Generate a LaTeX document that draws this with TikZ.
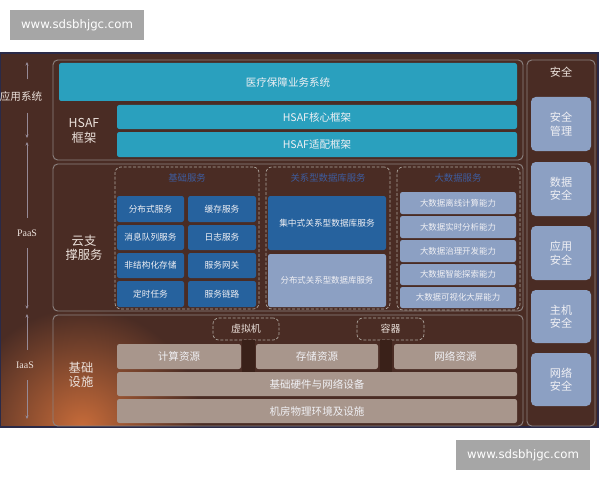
\documentclass[tikz,border=0pt]{standalone}
\usepackage{fontspec}
\setmainfont{Noto Sans CJK SC}
\newfontfamily\latinserif{Liberation Serif}
\newfontfamily\wmfont{DejaVu Sans}
\usetikzlibrary{arrows.meta}

\definecolor{panelbg}{RGB}{74,44,36}
\definecolor{framecol}{RGB}{42,42,72}
\definecolor{outlinecol}{RGB}{140,130,128}
\definecolor{tealcol}{RGB}{42,160,190}
\definecolor{dbluecol}{RGB}{38,98,158}
\definecolor{steelcol}{RGB}{140,160,195}
\definecolor{tancol}{RGB}{168,150,140}
\definecolor{hdrblue}{RGB}{62,92,158}
\definecolor{wtext}{RGB}{240,240,244}
\definecolor{ltext}{RGB}{236,226,220}
\definecolor{dashcol}{RGB}{175,168,160}
\definecolor{wmgray}{RGB}{166,166,166}
\definecolor{glowcol}{RGB}{200,108,58}
\definecolor{axiscol}{RGB}{150,138,150}
\definecolor{stripcol}{RGB}{58,33,25}

\newcommand\bx[7]{\node[#1,minimum width={(#5-#3)*0.03cm},minimum height={(#6-#4)*0.03cm}] (#2) at ({(#3+#5)/2},{(#4+#6)/2}) {#7};}

\tikzset{
  base/.style={inner sep=0pt, outer sep=0pt, align=center},
  outerblk/.style={base, draw=outlinecol, line width=0.8pt, rounded corners=4pt},
  tealbar/.style={base, fill=tealcol, rounded corners=2pt, text=wtext, font=\fontsize{9}{10}\selectfont},
  btn/.style={base, fill=dbluecol, rounded corners=2pt, text=wtext, font=\fontsize{7.4}{9}\selectfont},
  sbtn/.style={base, fill=steelcol, rounded corners=2pt, text=wtext, font=\fontsize{7.2}{9}\selectfont},
  tanbar/.style={base, fill=tancol, rounded corners=2pt, text=wtext, font=\fontsize{9}{10}\selectfont},
  grp/.style={base, draw=dashcol, dash pattern=on 2.5pt off 1.5pt, line width=0.6pt, rounded corners=5pt},
  secbox/.style={base, fill=steelcol, rounded corners=4pt, text=wtext, font=\fontsize{9.5}{11.5}\selectfont},
  hdr/.style={base, text=hdrblue, font=\fontsize{8}{9}\selectfont},
  lbl/.style={base, text=ltext, font=\fontsize{10.5}{12.5}\selectfont},
  axlbl/.style={base, inner ysep=10pt, text=ltext},
  axisline/.style={draw=axiscol, line width=0.5pt, -{Stealth[length=3pt,width=2.6pt]}},
  strip/.style={draw=stripcol, line width=11pt},
  wmbox/.style={base, fill=wmgray, text=white, font=\wmfont\fontsize{10}{12}\selectfont}
}

\begin{document}
\begin{tikzpicture}[x=0.03cm,y=-0.03cm]
\useasboundingbox (0,0) rectangle (600,480);

% panel
\fill[panelbg] (0,53) rectangle (598,427);
\begin{scope}
  \clip (0,53) rectangle (598,427);
  \shade[inner color=glowcol, outer color=panelbg] (82,428) circle [radius=3.6cm];
\end{scope}
\draw[framecol, line width=2.5pt] (0,53) rectangle (598,427);

% watermarks
\bx{wmbox}{wmtop}{10}{10}{144}{40}{www.sdsbhjgc.com}
\bx{wmbox}{wmbot}{456}{440}{590}{470}{www.sdsbhjgc.com}

% left axis
\coordinate (a1) at (27,62);
\coordinate (a2) at (27,138);
\coordinate (a3) at (27,142);
\coordinate (a4) at (27,309);
\coordinate (a5) at (27,314);
\coordinate (a6) at (27,419);
\node[axlbl, font=\fontsize{9}{10}\selectfont] (lapp) at (21,96) {应用系统};
\node[axlbl, font=\latinserif\fontsize{8.5}{10}\selectfont] (lpaas) at (27,233) {PaaS};
\node[axlbl, font=\latinserif\fontsize{8.5}{10}\selectfont] (liaas) at (25,365) {IaaS};
\draw[axisline] (lapp.north -| a1) -- (a1);
\draw[axisline] (lapp.south -| a1) -- (a2);
\draw[axisline] (lpaas.north) -- (a3);
\draw[axisline] (lpaas.south) -- (a4);
\draw[axisline] (liaas.north -| a5) -- (a5);
\draw[axisline] (liaas.south -| a5) -- (a6);

% application block
\bx{outerblk}{appblk}{53}{60}{523}{160}{}
\bx{tealbar}{medsys}{59}{63}{517}{101}{医疗保障业务系统}
\bx{tealbar}{hcore}{117}{105}{517}{129}{HSAF核心框架}
\bx{tealbar}{hadapt}{117}{132}{517}{157}{HSAF适配框架}
\node[lbl] (hsaf) at (84,131) {HSAF\\框架};

% PaaS block
\bx{outerblk}{paasblk}{53}{164}{523}{311}{}
\node[lbl] (cloud) at (84,248) {云支\\撑服务};

\bx{grp}{g1}{115}{167}{259}{309}{}
\bx{grp}{g2}{266}{167}{390}{309}{}
\bx{grp}{g3}{397}{167}{520}{310}{}
\node[hdr] (h1) at (187,178) {基础服务};
\node[hdr] (h2) at (328,178) {关系型数据库服务};
\node[hdr] (h3) at (458,178) {大数据服务};

\bx{btn}{b11}{117}{196}{184}{222}{分布式服务}
\bx{btn}{b12}{188}{196}{256}{222}{缓存服务}
\bx{btn}{b21}{117}{225}{184}{250}{消息队列服务}
\bx{btn}{b22}{188}{225}{256}{250}{日志服务}
\bx{btn}{b31}{117}{253}{184}{278}{非结构化存储}
\bx{btn}{b32}{188}{253}{256}{278}{服务网关}
\bx{btn}{b41}{117}{281}{184}{307}{定时任务}
\bx{btn}{b42}{188}{281}{256}{307}{服务链路}

\bx{btn}{db1}{268}{196}{386}{250}{集中式关系型数据库服务}
\bx{sbtn}{db2}{268}{254}{386}{307}{分布式关系型数据库服务}

\bx{sbtn}{bd1}{400}{192}{516}{214}{大数据离线计算能力}
\bx{sbtn}{bd2}{400}{216}{516}{238}{大数据实时分析能力}
\bx{sbtn}{bd3}{400}{240}{516}{262}{大数据治理开发能力}
\bx{sbtn}{bd4}{400}{264}{516}{285}{大数据智能探索能力}
\bx{sbtn}{bd5}{400}{287}{516}{308}{大数据可视化大屏能力}

% IaaS block
\bx{outerblk}{iaasblk}{53}{315}{523}{426}{}
\node[lbl] (infra) at (81,375) {基础\\设施};

\bx{grp}{vm}{213}{318}{279}{340}{}
\bx{grp}{ctr}{357}{318}{424}{340}{}
\node[lbl, font=\fontsize{8.5}{10}\selectfont] at (vm) {虚拟机};
\node[lbl, font=\fontsize{8.5}{10}\selectfont] at (ctr) {容器};

\bx{tanbar}{hw}{117}{372}{517}{396}{基础硬件与网络设备}
\draw[strip] ([xshift=2.5*0.03cm]vm.south) -- ([xshift=2.5*0.03cm]vm.south |- hw.north);
\draw[strip] ([xshift=-4.5*0.03cm]ctr.south) -- ([xshift=-4.5*0.03cm]ctr.south |- hw.north);

\bx{tanbar}{comp}{117}{344}{241}{369}{计算资源}
\bx{tanbar}{stor}{256}{344}{378}{369}{存储资源}
\bx{tanbar}{netr}{394}{344}{517}{369}{网络资源}
\bx{tanbar}{room}{117}{399}{517}{423}{机房物理环境及设施}

% security column
\bx{outerblk}{secblk}{527}{60}{595}{426}{}
\node[lbl, font=\fontsize{9.5}{11}\selectfont] (sechdr) at (561,72) {安全};
\bx{secbox}{s1}{531}{97}{591}{151}{安全\\管理}
\bx{secbox}{s2}{531}{162}{591}{216}{数据\\安全}
\bx{secbox}{s3}{531}{226}{591}{280}{应用\\安全}
\bx{secbox}{s4}{531}{290}{591}{343}{主机\\安全}
\bx{secbox}{s5}{531}{353}{591}{406}{网络\\安全}
\end{tikzpicture}
\end{document}
